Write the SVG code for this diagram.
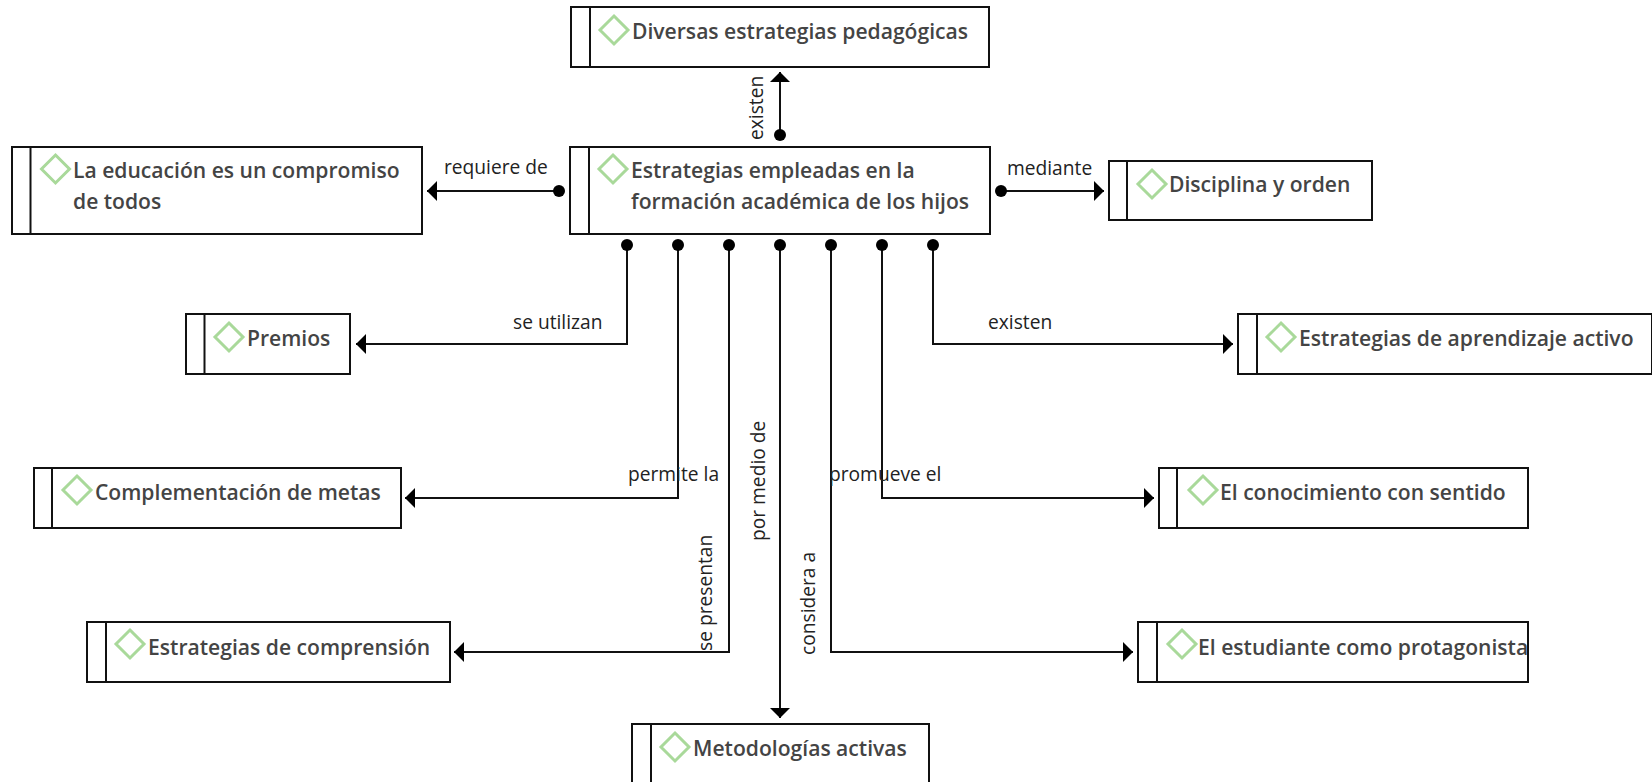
<svg xmlns="http://www.w3.org/2000/svg" width="1652" height="782" viewBox="0 0 1652 782">
<style>
.box{fill:#fff;stroke:#111;stroke-width:2}
.dia{fill:none;stroke:#a9d99a;stroke-width:3}
.t{font-family:"Open Sans","Noto Sans",sans-serif;font-size:21.1px;font-weight:600;fill:#444}
.l{font-family:"Open Sans","Noto Sans",sans-serif;font-size:19.2px;fill:#222}
.c{fill:none;stroke:#111;stroke-width:2;marker-start:url(#dot);marker-end:url(#arr)}
</style>
<defs>
<marker id="dot" markerUnits="userSpaceOnUse" markerWidth="14" markerHeight="14" refX="7" refY="7" orient="auto"><circle cx="7" cy="7" r="6" fill="#000"/></marker>
<marker id="arr" markerUnits="userSpaceOnUse" markerWidth="12" markerHeight="22" refX="10" refY="11" orient="auto"><path d="M0 1L10 11L0 21Z" fill="#000"/></marker>
</defs>
<g id="connectors">
<path class="c" d="M780 135V72"/>
<path class="c" d="M559 191H427"/>
<path class="c" d="M1001 191H1104"/>
<path class="c" d="M627 245V344H356"/>
<path class="c" d="M678 245V498H405"/>
<path class="c" d="M729 245V652H454"/>
<path class="c" d="M780 245V718"/>
<path class="c" d="M831 245V652H1133"/>
<path class="c" d="M882 245V498H1154"/>
<path class="c" d="M933 245V344H1233"/>
</g>
<g id="labels">
<text class="l" transform="translate(763 140) rotate(-90)">existen</text>
<text class="l" x="444" y="174">requiere de</text>
<text class="l" x="1007" y="175">mediante</text>
<text class="l" x="513" y="329">se utilizan</text>
<text class="l" x="628" y="481">permite la</text>
<text class="l" transform="translate(712 651) rotate(-90)">se presentan</text>
<text class="l" transform="translate(765 541) rotate(-90)">por medio de</text>
<text class="l" transform="translate(815 655) rotate(-90)">considera a</text>
<text class="l" x="829" y="481">promueve el</text>
<text class="l" x="988" y="329">existen</text>
</g>
<g id="n1"><rect class="box" x="571" y="7" width="418" height="60"/><path class="box" d="M590 7V67"/><path class="dia" d="M614 16L628 30L614 44L600 30Z"/><text class="t" x="632" y="39">Diversas estrategias pedagógicas</text></g>
<g id="n2"><rect class="box" x="570" y="147" width="420" height="87"/><path class="box" d="M589 147V234"/><path class="dia" d="M613 155L627 169L613 183L599 169Z"/><text class="t" x="631" y="178">Estrategias empleadas en la</text><text class="t" x="631" y="209">formación académica de los hijos</text></g>
<g id="n3"><rect class="box" x="12" y="147" width="410" height="87"/><path class="box" d="M30.500 147V234"/><path class="dia" d="M55.500 155L69.500 169L55.500 183L41.500 169Z"/><text class="t" x="73" y="178">La educación es un compromiso</text><text class="t" x="73" y="209">de todos</text></g>
<g id="n4"><rect class="box" x="1109" y="161" width="263" height="59"/><path class="box" d="M1127 161V220"/><path class="dia" d="M1152 170L1166 184L1152 198L1138 184Z"/><text class="t" x="1169" y="192">Disciplina y orden</text></g>
<g id="n5"><rect class="box" x="186" y="314" width="164" height="60"/><path class="box" d="M204.500 314V374"/><path class="dia" d="M229 323L243 337L229 351L215 337Z"/><text class="t" x="247" y="346">Premios</text></g>
<g id="n6"><rect class="box" x="1238" y="314" width="414" height="60"/><path class="box" d="M1257 314V374"/><path class="dia" d="M1281 323L1295 337L1281 351L1267 337Z"/><text class="t" x="1299" y="346">Estrategias de aprendizaje activo</text></g>
<g id="n7"><rect class="box" x="34" y="468" width="367" height="60"/><path class="box" d="M52 468V528"/><path class="dia" d="M77 476L91 490L77 504L63 490Z"/><text class="t" x="95" y="500">Complementación de metas</text></g>
<g id="n8"><rect class="box" x="1159" y="468" width="369" height="60"/><path class="box" d="M1177 468V528"/><path class="dia" d="M1203 476L1217 490L1203 504L1189 490Z"/><text class="t" x="1220" y="500">El conocimiento con sentido</text></g>
<g id="n9"><rect class="box" x="87" y="622" width="363" height="60"/><path class="box" d="M106 622V682"/><path class="dia" d="M130 630L144 644L130 658L116 644Z"/><text class="t" x="148" y="655">Estrategias de comprensión</text></g>
<g id="n10"><rect class="box" x="1138" y="622" width="390" height="60"/><path class="box" d="M1157 622V682"/><path class="dia" d="M1182 630L1196 644L1182 658L1168 644Z"/><text class="t" x="1198" y="655">El estudiante como protagonista</text></g>
<g id="n11"><rect class="box" x="632" y="724" width="297" height="60"/><path class="box" d="M651 724V784"/><path class="dia" d="M675 733L689 747L675 761L661 747Z"/><text class="t" x="693" y="756">Metodologías activas</text></g>
</svg>
